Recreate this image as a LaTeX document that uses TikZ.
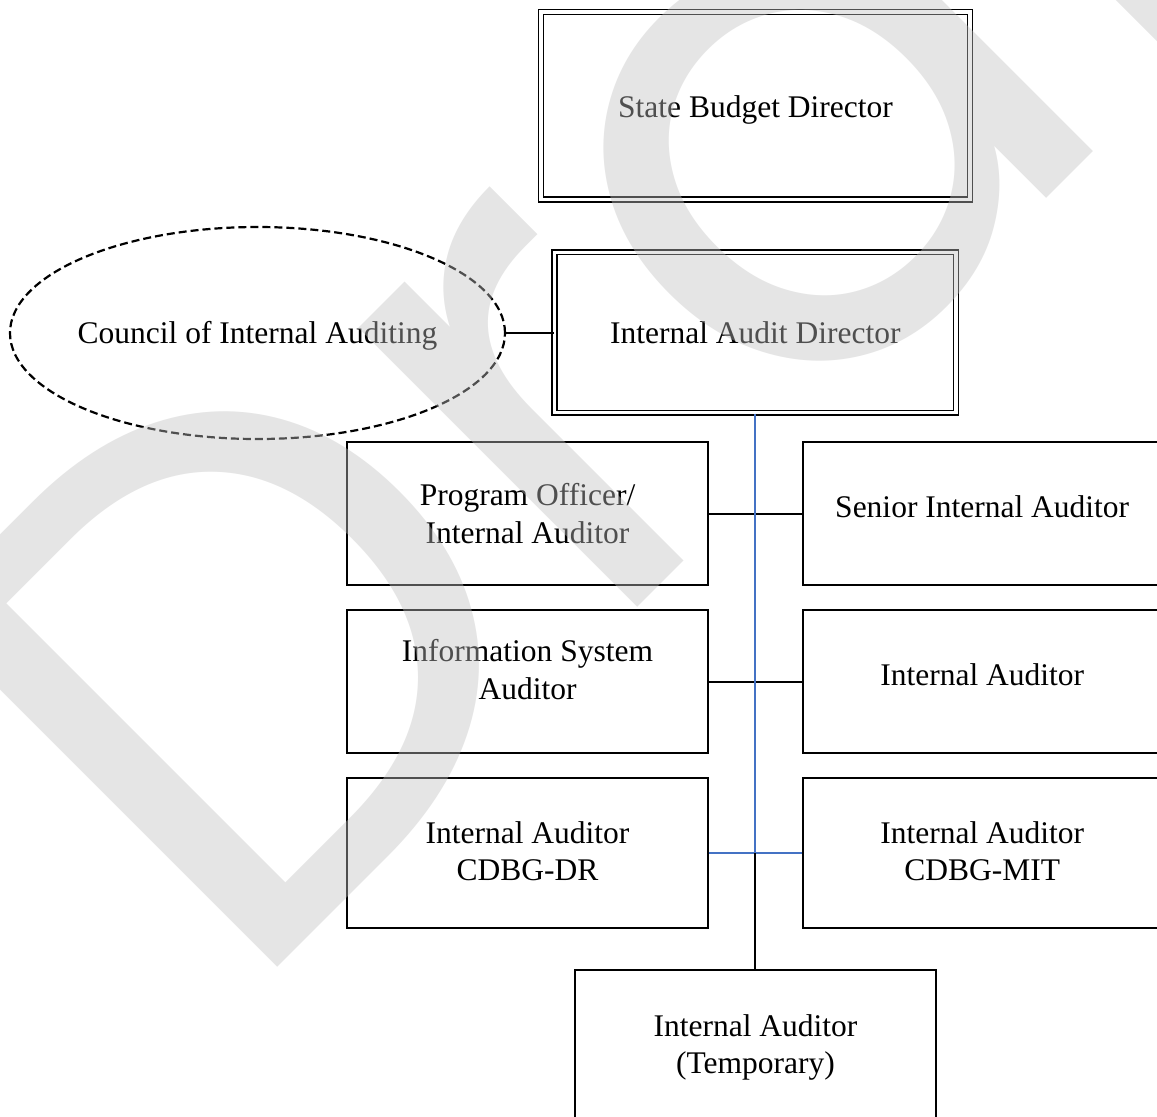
\documentclass[tikz,border=0pt]{standalone}
\usepackage{graphicx}
\usepackage{fontspec}
\setmainfont{Liberation Serif}
\newfontfamily\wmfont{Poppins}
\usetikzlibrary{shapes.geometric}
\definecolor{wordblue}{RGB}{68,114,196}
\definecolor{wmgray}{RGB}{192,192,192}
\tikzset{
  lbl/.style={font=\fontsize{15.75}{18.8}\selectfont, align=center, inner sep=0pt},
  plainbox/.style={draw, line width=1pt, inner sep=0pt},
  dblbox/.style={draw, double, double distance=1.6pt, line width=0.8pt, inner sep=0pt},
  council/.style={draw, dash pattern=on 4pt off 2pt, line width=1.1pt, ellipse, inner sep=0pt},
  conn/.style={line width=1pt, black},
  bconn/.style={line width=1pt, wordblue},
  watermark/.style={text=wmgray, text opacity=0.41, inner sep=0pt,
    font=\wmfont\fontsize{360}{360}\selectfont}
}
\begin{document}
\begin{tikzpicture}[x=0.5pt, y=-0.5pt]
\useasboundingbox (0,0) rectangle (1157,1116);
\clip (0,0) rectangle (1157,1116);
\fill[white] (0,0) rectangle (1157,1116);

% top boxes
\node[dblbox, minimum width=214.5pt, minimum height=93.65pt,
  label={[lbl, yshift=-2pt]center:State Budget Director}] (sbd) at (755.5,105.65) {};
\node[dblbox, minimum width=200.7pt, minimum height=80.35pt,
  label={[lbl]center:Internal Audit Director}] (iad) at (755.3,332.5) {};
\node[council, minimum width=247.5pt, minimum height=106pt,
  label={[lbl, yshift=-1.5pt]center:Council of Internal Auditing}] (cia) at (257.5,333) {};

% left column
\node[plainbox, minimum width=180.2pt, minimum height=71.35pt,
  label={[lbl]center:Program Officer/\\Internal Auditor}] (po) at (527.5,513.65) {};
\node[plainbox, minimum width=180.2pt, minimum height=71.65pt,
  label={[lbl, yshift=6pt]center:Information System\\Auditor}] (isa) at (527.5,681.65) {};
\node[plainbox, minimum width=180.2pt, minimum height=75pt,
  label={[lbl, yshift=1pt]center:Internal Auditor\\CDBG-DR}] (dr) at (527.5,853.3) {};

% right column
\node[plainbox, minimum width=178.85pt, minimum height=71.35pt,
  label={[lbl, yshift=3.3pt]center:Senior Internal Auditor}] (sia) at (982.2,513.65) {};
\node[plainbox, minimum width=178.85pt, minimum height=71.65pt,
  label={[lbl, yshift=3.3pt]center:Internal Auditor}] (ia) at (982.2,681.65) {};
\node[plainbox, minimum width=178.85pt, minimum height=75pt,
  label={[lbl, yshift=1pt]center:Internal Auditor\\CDBG-MIT}] (mit) at (982.2,853.3) {};

% bottom box
\node[plainbox, minimum width=180.5pt, minimum height=85pt,
  label={[lbl, yshift=3.75pt]center:Internal Auditor\\(Temporary)}] (tmp) at (755.5,1055) {};

% connectors
\draw[conn] (cia.east) -- (cia.east -| iad.west);
\draw[conn] (po.east) -- (sia.west);
\draw[conn] (isa.east) -- (ia.west);
\draw[bconn] (dr.east) -- (mit.west);
\coordinate (junc) at (iad.south |- dr.east);
\draw[conn] (junc) -- (junc |- tmp.north);
\draw[bconn] (iad.south) -- (junc);

% watermark
\node[watermark, rotate=45, anchor=base west] (wmk) at (238,1007) {Draft};
\end{tikzpicture}
\end{document}
